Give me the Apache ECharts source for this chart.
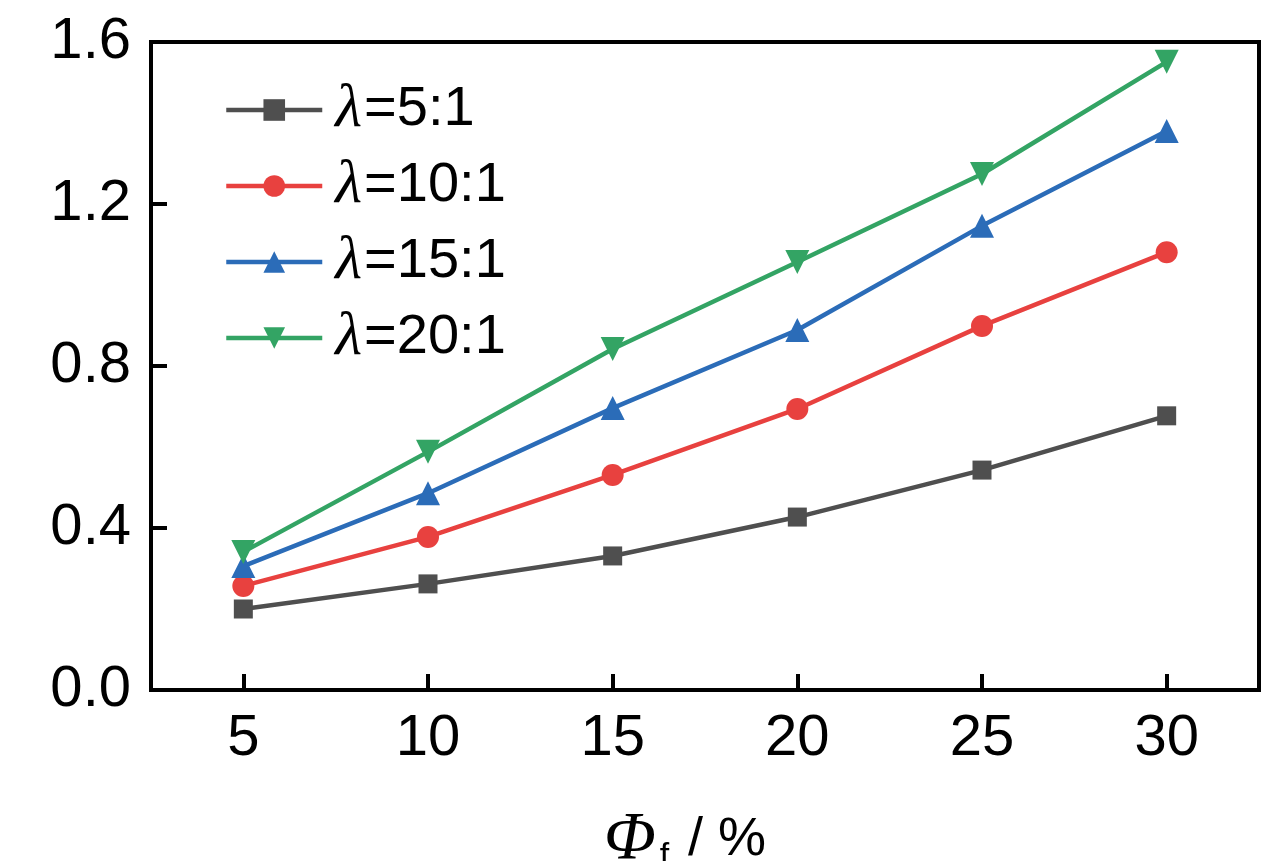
<!DOCTYPE html>
<html>
<head>
<meta charset="utf-8">
<title>λ 曲线</title>
<script src="https://cdn.jsdelivr.net/npm/echarts@6/dist/echarts.min.js"></script>
<style>
  html, body { margin: 0; padding: 0; background: #fff; }
  #main { width: 1280px; height: 861px; }
</style>
</head>
<body>
<div id="main"></div>
<script>
// 数据
var xValues = [5, 10, 15, 20, 25, 30];
var names = ['λ=5:1', 'λ=10:1', 'λ=15:1', 'λ=20:1'];
var s5 = [0.200, 0.262, 0.331, 0.427, 0.543, 0.677];
var s10 = [0.257, 0.378, 0.531, 0.694, 0.899, 1.081];
var s15 = [0.306, 0.486, 0.696, 0.889, 1.146, 1.380];
var s20 = [0.341, 0.588, 0.842, 1.057, 1.274, 1.551];

var colors = ['#4f4f4f', '#e8413f', '#2b6cb8', '#33a464'];
var symbols = ['rect', 'circle', 'triangle', 'triangle'];
var symSizes = [19, 22, 24, 24];
var rotates = [0, 0, 0, 180];

function pairs(ys) {
  var out = [];
  for (var i = 0; i < xValues.length; i++) out.push([xValues[i], ys[i]]);
  return out;
}

var allData = [s5, s10, s15, s20];
var series = [];
for (var k = 0; k < names.length; k++) {
  series.push({
    name: names[k],
    type: 'line',
    data: pairs(allData[k]),
    symbol: symbols[k],
    symbolSize: symSizes[k],
    symbolRotate: rotates[k],
    showAllSymbol: true,
    lineStyle: { color: colors[k], width: 4.5 },
    itemStyle: { color: colors[k] },
    z: 2 + k
  });
}

var myChart = echarts.init(document.getElementById('main'));
var tickFont = "'Liberation Sans Narrow', 'Liberation Sans', Arial, sans-serif";

var option = {
  animation: false,
  backgroundColor: '#fff',
  grid: {
    left: 151, right: 21, top: 42, bottom: 171,
    outerBoundsMode: 'none',
    show: true, borderColor: '#000', borderWidth: 4, backgroundColor: 'transparent'
  },
  legend: {
    orient: 'vertical',
    left: 219,
    top: 74,
    itemWidth: 96,
    itemHeight: 27,
    itemGap: 14,
    data: names,
    lineStyle: { width: 4.5 },
    formatter: function (n) {
      return '{l|λ}{t|' + n.slice(1) + '}';
    },
    textStyle: {
      rich: {
        l: { fontFamily: "'Liberation Serif', 'Times New Roman', serif", fontStyle: 'italic', fontSize: 62, color: '#000', lineHeight: 59, padding: [0, 2, 0, 8] },
        t: { fontFamily: "'Liberation Sans', Arial, sans-serif", fontSize: 56, color: '#000', lineHeight: 59 }
      }
    }
  },
  xAxis: {
    type: 'value',
    min: 2.5,
    max: 32.5,
    interval: 5,
    splitLine: { show: false },
    axisLine: { lineStyle: { color: '#000', width: 4 } },
    axisTick: { inside: true, length: 16, lineStyle: { color: '#000', width: 4 }, customValues: xValues },
    axisLabel: { customValues: xValues, fontFamily: tickFont, fontSize: 58, color: '#000', margin: 20 },
    name: '{p|Φ}{s|f}{t| / %}',
    nameLocation: 'middle',
    nameGap: 116,
    nameTextStyle: {
      rich: {
        p: { fontFamily: "'Liberation Serif', 'Times New Roman', serif", fontStyle: 'italic', fontSize: 68, color: '#000' },
        s: { fontFamily: tickFont, fontSize: 34, color: '#000', verticalAlign: 'bottom', padding: [30, 4, 0, 4] },
        t: { fontFamily: tickFont, fontSize: 54, color: '#000', padding: [0, 40, 0, 0] }
      }
    }
  },
  yAxis: {
    type: 'value',
    min: 0,
    max: 1.6,
    interval: 0.4,
    splitLine: { show: false },
    axisLine: { lineStyle: { color: '#000', width: 4 } },
    axisTick: { inside: true, length: 16, lineStyle: { color: '#000', width: 4 } },
    axisLabel: {
      fontFamily: tickFont, fontSize: 58, color: '#000', margin: 20,
      formatter: function (v) { return v.toFixed(1); }
    }
  },
  series: series
};

myChart.setOption(option);
</script>
</body>
</html>
